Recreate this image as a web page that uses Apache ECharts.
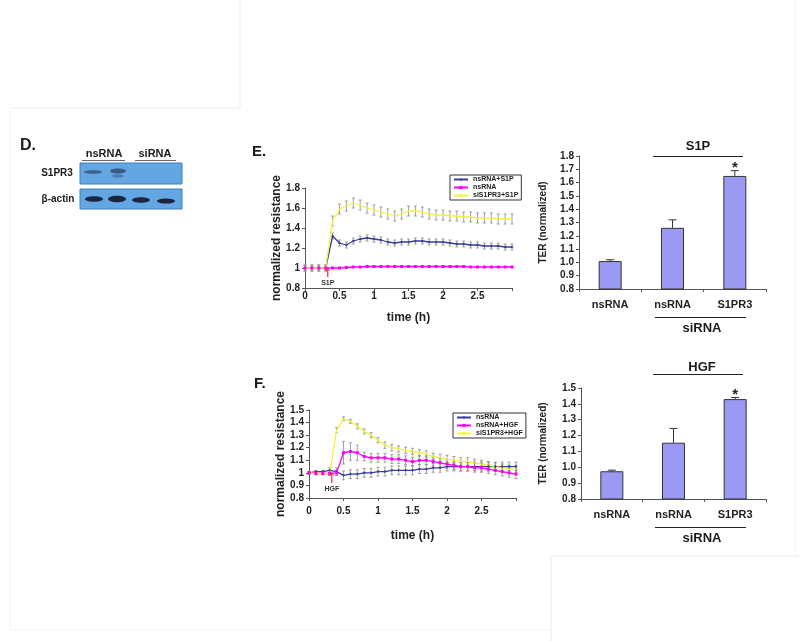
<!DOCTYPE html>
<html><head><meta charset="utf-8">
<script src="https://cdn.jsdelivr.net/npm/echarts@6/dist/echarts.min.js"></script>
<style>html,body{margin:0;padding:0;background:#fff}#c{width:800px;height:641px}</style>
</head><body><div id="c"></div>
<script>
// ---------- DATA ----------
const time = [0,0.1,0.2,0.3,0.4,0.5,0.6,0.7,0.8,0.9,1.0,1.1,1.2,1.3,1.4,1.5,1.6,1.7,1.8,1.9,2.0,2.1,2.2,2.3,2.4,2.5,2.6,2.7,2.8,2.9,3.0];
const xTickLabels = ['0','0.5','1','1.5','2','2.5'];

// Panel E (S1P)
const eNames = ['nsRNA+S1P','nsRNA','siS1PR3+S1P'];
const eNsS1P   = [1.00,1.00,1.00,1.00,1.32,1.25,1.23,1.27,1.29,1.30,1.29,1.28,1.26,1.25,1.26,1.26,1.27,1.27,1.26,1.26,1.26,1.25,1.24,1.24,1.23,1.23,1.22,1.22,1.22,1.21,1.21];
const eNsS1PErr= [0.03,0.03,0.03,0.03,0.03,0.03,0.03,0.03,0.03,0.03,0.03,0.03,0.03,0.03,0.03,0.03,0.03,0.03,0.03,0.03,0.03,0.03,0.03,0.03,0.03,0.03,0.03,0.03,0.03,0.03,0.03];
const eNs      = [1.00,1.00,1.00,1.00,1.00,1.00,1.005,1.01,1.01,1.015,1.015,1.015,1.015,1.015,1.015,1.015,1.015,1.015,1.015,1.015,1.015,1.015,1.015,1.015,1.01,1.01,1.01,1.01,1.01,1.01,1.01];
const eNsErr   = [0.005,0.005,0.005,0.005,0.005,0.005,0.005,0.005,0.005,0.005,0.005,0.005,0.005,0.005,0.005,0.005,0.005,0.005,0.005,0.005,0.005,0.005,0.005,0.005,0.005,0.005,0.005,0.005,0.005,0.005,0.005];
const eSiS1P   = [1.00,1.00,1.00,1.00,1.47,1.59,1.62,1.65,1.63,1.60,1.58,1.56,1.54,1.52,1.54,1.57,1.57,1.56,1.54,1.53,1.53,1.52,1.52,1.51,1.51,1.50,1.50,1.50,1.49,1.49,1.49];
const eSiS1PErr= [0.03,0.03,0.03,0.03,0.05,0.05,0.05,0.05,0.05,0.05,0.05,0.05,0.05,0.05,0.05,0.05,0.05,0.05,0.05,0.05,0.05,0.05,0.05,0.05,0.05,0.05,0.05,0.05,0.05,0.05,0.05];

// Panel F (HGF)
const fNames = ['nsRNA','nsRNA+HGF','siS1PR3+HGF'];
const fNs      = [1.00,1.01,1.01,1.02,1.01,0.98,0.99,0.99,1.00,1.00,1.01,1.01,1.02,1.02,1.02,1.02,1.03,1.03,1.04,1.04,1.05,1.05,1.05,1.05,1.05,1.05,1.05,1.05,1.05,1.05,1.05];
const fNsErr   = [0.01,0.01,0.01,0.02,0.03,0.035,0.035,0.035,0.035,0.035,0.035,0.035,0.035,0.035,0.035,0.035,0.035,0.035,0.035,0.035,0.035,0.035,0.035,0.035,0.035,0.035,0.035,0.035,0.035,0.035,0.035];
const fNsHGF   = [1.00,0.995,0.995,0.995,1.00,1.16,1.17,1.16,1.13,1.12,1.12,1.12,1.11,1.11,1.10,1.09,1.10,1.10,1.09,1.08,1.07,1.06,1.05,1.05,1.04,1.04,1.03,1.02,1.01,1.00,0.99];
const fNsHGFErr= [0.01,0.01,0.01,0.01,0.02,0.09,0.07,0.06,0.035,0.035,0.035,0.035,0.035,0.035,0.035,0.035,0.035,0.035,0.035,0.035,0.035,0.035,0.035,0.035,0.035,0.035,0.035,0.035,0.035,0.035,0.035];
const fSiHGF   = [1.00,0.995,0.995,0.99,1.34,1.43,1.41,1.37,1.33,1.30,1.26,1.22,1.20,1.19,1.18,1.17,1.16,1.15,1.13,1.12,1.11,1.10,1.09,1.09,1.08,1.07,1.06,1.05,1.04,1.03,1.03];
const fSiHGFErr= [0.01,0.01,0.01,0.01,0.02,0.015,0.015,0.02,0.02,0.02,0.02,0.025,0.025,0.025,0.025,0.025,0.025,0.025,0.025,0.03,0.03,0.03,0.03,0.03,0.03,0.03,0.03,0.03,0.03,0.03,0.03];

// Treatment annotations [time, label]
const s1pAdd = [0.33, 'S1P'];
const hgfAdd = [0.33, 'HGF'];

// Bar charts
const barCats = ['nsRNA','nsRNA','S1PR3'];
const barS1P = [1.01, 1.26, 1.65];
const barS1PErr = [0.01, 0.06, 0.04];
const barHGF = [0.975, 1.155, 1.43];
const barHGFErr = [0.007, 0.09, 0.01];
const barSig = ['', '', '*'];

// ---------- CHART ----------
const FONT = 'Liberation Sans, Arial, sans-serif';
const C_BLUE = '#3d3d99', C_MAG = '#ff00ff', C_YEL = '#f2f23a', C_ERR = '#8a8a8a';
const chart = echarts.init(document.getElementById('c'), null, {renderer:'canvas'});

function pairs(ys, errs){ return time.map((t,i)=>[t, ys[i], errs[i]]); }
function lineSeries(name, ys, color, sym, gi){
  return {type:'line', name, xAxisIndex:gi, yAxisIndex:gi, data: time.map((t,i)=>[t,ys[i]]),
    lineStyle:{color, width:1.3}, itemStyle:{color}, symbol:sym, symbolSize:3, showSymbol: sym!=='none',
    z:3, animation:false};
}
function errSeries(ys, errs, gi, color){
  return {type:'custom', xAxisIndex:gi, yAxisIndex:gi, data:pairs(ys,errs), encode:{x:0,y:1}, z:2, animation:false,
    renderItem:(p,api)=>{
      const x=api.value(0), y=api.value(1), e=api.value(2);
      const a=api.coord([x,y+e]), b=api.coord([x,y-e]);
      const st={stroke:color, lineWidth:0.8};
      return {type:'group', children:[
        {type:'line', shape:{x1:a[0],y1:a[1],x2:b[0],y2:b[1]}, style:st},
        {type:'line', shape:{x1:a[0]-1.5,y1:a[1],x2:a[0]+1.5,y2:a[1]}, style:st},
        {type:'line', shape:{x1:b[0]-1.5,y1:b[1],x2:b[0]+1.5,y2:b[1]}, style:st}]};
    }};
}
function arrowSeries(ann, gi, yFrom, yTo, yText){
  return {type:'custom', xAxisIndex:gi, yAxisIndex:gi, data:[[ann[0], yFrom, yTo, yText]], encode:{x:0,y:1}, z:5, animation:false,
    renderItem:(p,api)=>{
      const a=api.coord([api.value(0), api.value(1)]), b=api.coord([api.value(0), api.value(2)]), t=api.coord([api.value(0), api.value(3)]);
      return {type:'group', children:[
        {type:'line', shape:{x1:a[0],y1:a[1],x2:b[0],y2:b[1]}, style:{stroke:'#e0304a', lineWidth:1.2}},
        {type:'polyline', shape:{points:[[a[0]-2,a[1]+3],[a[0],a[1]],[a[0]+2,a[1]+3]]}, style:{stroke:'#e0304a', lineWidth:1, fill:null}},
        {type:'text', x:t[0], y:t[1], style:{text:ann[1], font:'bold 7px '+FONT, fill:'#333', align:'center', verticalAlign:'middle'}}]};
    }};
}
function barErrSeries(vals, errs, sig, gi){
  return {type:'custom', xAxisIndex:gi, yAxisIndex:gi, data: vals.map((v,i)=>[i, v, errs[i]]), encode:{x:0,y:1}, z:4, animation:false,
    renderItem:(p,api)=>{
      const i=api.value(0), v=api.value(1), e=api.value(2);
      const a=api.coord([i, v+e]), b=api.coord([i, v]);
      const st={stroke:'#333', lineWidth:1};
      const ch=[{type:'line', shape:{x1:a[0],y1:a[1],x2:b[0],y2:b[1]}, style:st},
                {type:'line', shape:{x1:a[0]-4,y1:a[1],x2:a[0]+4,y2:a[1]}, style:st}];
      if (sig[i]) ch.push({type:'text', x:a[0], y:a[1]+5, style:{text:sig[i], font:'bold 15px '+FONT, fill:'#222', align:'center', verticalAlign:'bottom'}});
      return {type:'group', children:ch};
    }};
}

const axLine = {show:true, lineStyle:{color:'#555', width:1}};
const axTick = {show:true, length:3, lineStyle:{color:'#555'}};
const lblStyle = {color:'#222', fontFamily:FONT, fontWeight:'bold', fontSize:10};

function lineX(gi, margin, nameGap){
  return {type:'value', gridIndex:gi, min:0, max:3, interval:0.5, axisLine:axLine, axisTick:axTick, splitLine:{show:false},
    axisLabel:Object.assign({}, lblStyle, {margin, formatter:(v)=>{const k=Math.round(v*2); return k<xTickLabels.length? xTickLabels[k]:'';}}),
    name:'time (h)', nameLocation:'middle', nameGap, nameTextStyle:{color:'#222', fontFamily:FONT, fontWeight:'bold', fontSize:12}};
}
function lineY(gi, min, max, interval){
  return {type:'value', gridIndex:gi, min, max, interval, axisLine:axLine, axisTick:axTick, splitLine:{show:false},
    axisLabel:Object.assign({}, lblStyle, {margin:5}),
    name:'normalized resistance', nameLocation:'middle', nameRotate:90, nameGap:22,
    nameTextStyle:{color:'#222', fontFamily:FONT, fontWeight:'bold', fontSize:12}};
}
function barX(gi){
  return {type:'category', gridIndex:gi, data:barCats, axisLine:axLine, axisTick:{show:true, length:3, lineStyle:{color:'#555'}},
    axisLabel:Object.assign({}, lblStyle, {fontSize:11, margin:10})};
}
function barY(gi, min, max, gap){
  return {type:'value', gridIndex:gi, min, max, interval:0.1, axisLine:axLine, axisTick:axTick, splitLine:{show:false},
    axisLabel:Object.assign({}, lblStyle, {margin:5, formatter:(v)=>v.toFixed(1)}),
    name:'TER (normalized)', nameLocation:'middle', nameRotate:90, nameGap:gap,
    nameTextStyle:{color:'#222', fontFamily:FONT, fontWeight:'bold', fontSize:10}};
}

const legendBase = {orient:'vertical', itemWidth:14, itemHeight:4, itemGap:1, padding:[1,3], borderColor:'#333', borderWidth:1,
  backgroundColor:'#fff', textStyle:{fontFamily:FONT, fontWeight:'bold', fontSize:7, color:'#222'}, selectedMode:false};

const fTag = ' (F)';
const faint = '#ebebeb';
function gline(x1,y1,x2,y2,color,w){ return {type:'line', shape:{x1,y1,x2,y2}, style:{stroke:color||'#222', lineWidth:w||1}, silent:true}; }
function gtext(x,y,text,size,align){ return {type:'text', x, y, style:{text, font:'bold '+size+'px '+FONT, fill:'#1a1a1a', align:align||'center', verticalAlign:'middle'}, silent:true}; }

const graphics = [
  // faint page frame lines
  gline(10,108,240,108,faint), gline(240,0,240,108,faint),
  gline(10,108,10,630,'#f3f3f3'), gline(10,630,551,630,'#f3f3f3'),
  gline(795,0,795,556,'#f3f3f3'),
  gline(551,556,800,556,faint), gline(551,556,551,641,faint),
  // panel letters
  gtext(20,146,'D.',16,'left'), gtext(252,152,'E.',15,'left'), gtext(254,384,'F.',15,'left'),
  // western blot
  gtext(104,154,'nsRNA',11), gline(82,160.5,125,160.5,'#666'),
  gtext(155,154,'siRNA',11), gline(135,160.5,176,160.5,'#666'),
  gtext(57,173,'S1PR3',10), gtext(58,199,'β-actin',10),
  {type:'rect', shape:{x:80,y:163,width:102,height:21}, style:{fill:'#64a6e2', stroke:'#3f7fbf', lineWidth:1}, silent:true},
  {type:'rect', shape:{x:80,y:189,width:102,height:20}, style:{fill:'#64a6e2', stroke:'#3f7fbf', lineWidth:1}, silent:true},
  {type:'ellipse', shape:{cx:93,cy:172,rx:9,ry:1.8}, style:{fill:'rgba(30,40,70,0.55)'}, silent:true},
  {type:'ellipse', shape:{cx:118,cy:171,rx:8,ry:2.5}, style:{fill:'rgba(30,40,70,0.6)'}, silent:true},
  {type:'ellipse', shape:{cx:118,cy:176,rx:6,ry:1.5}, style:{fill:'rgba(30,40,70,0.35)'}, silent:true},
  {type:'ellipse', shape:{cx:94,cy:199,rx:9,ry:2.8}, style:{fill:'#1b2440'}, silent:true},
  {type:'ellipse', shape:{cx:117,cy:199,rx:9,ry:3.2}, style:{fill:'#1b2440'}, silent:true},
  {type:'ellipse', shape:{cx:141,cy:200,rx:9,ry:2.8}, style:{fill:'#1b2440'}, silent:true},
  {type:'ellipse', shape:{cx:166,cy:201,rx:9,ry:2.6}, style:{fill:'#1b2440'}, silent:true},
  // bar chart annotations
  gtext(698,146,'S1P',13), gline(653,156.5,743,156.5,'#222'),
  gline(655,317.5,746,317.5,'#222'), gtext(702,328,'siRNA',13),
  gtext(702,367,'HGF',13), gline(653,374.5,743,374.5,'#222'),
  gline(655,527.5,746,527.5,'#222'), gtext(702,538,'siRNA',13)
];

const option = {
  backgroundColor:'#fff',
  animation:false,
  grid:[
    {left:305, top:188, width:207, height:100},
    {left:309, top:410, width:207, height:88},
    {left:579, top:156, width:187, height:133},
    {left:581, top:388, width:185, height:111}
  ],
  xAxis:[lineX(0,3,24), lineX(1,8,32), barX(2), barX(3)],
  yAxis:[lineY(0,0.8,1.8,0.2), lineY(1,0.8,1.5,0.1), barY(2,0.8,1.8,31), barY(3,0.8,1.5,33)],
  legend:[
    Object.assign({}, legendBase, {left:450, top:175, data:eNames}),
    Object.assign({}, legendBase, {left:453, top:413, data:fNames.map(n=>n+fTag), formatter:(n)=>n.replace(fTag,'')})
  ],
  series:[
    errSeries(eNsS1P, eNsS1PErr, 0, C_ERR),
    errSeries(eSiS1P, eSiS1PErr, 0, C_ERR),
    errSeries(eNs, eNsErr, 0, C_MAG),
    lineSeries(eNames[0], eNsS1P, C_BLUE, 'diamond', 0),
    lineSeries(eNames[1], eNs, C_MAG, 'rect', 0),
    lineSeries(eNames[2], eSiS1P, C_YEL, 'none', 0),
    arrowSeries(s1pAdd, 0, 1.0, 0.91, 0.85),

    errSeries(fNs, fNsErr, 1, C_ERR),
    errSeries(fNsHGF, fNsHGFErr, 1, C_ERR),
    errSeries(fSiHGF, fSiHGFErr, 1, C_ERR),
    lineSeries(fNames[0]+fTag, fNs, C_BLUE, 'diamond', 1),
    lineSeries(fNames[1]+fTag, fNsHGF, C_MAG, 'rect', 1),
    lineSeries(fNames[2]+fTag, fSiHGF, C_YEL, 'none', 1),
    arrowSeries(hgfAdd, 1, 1.0, 0.92, 0.87),

    {type:'bar', xAxisIndex:2, yAxisIndex:2, data:barS1P, barWidth:23, itemStyle:{color:'#9a9af5', borderColor:'#333', borderWidth:1}, z:2},
    barErrSeries(barS1P, barS1PErr, barSig, 2),
    {type:'bar', xAxisIndex:3, yAxisIndex:3, data:barHGF, barWidth:23, itemStyle:{color:'#9a9af5', borderColor:'#333', borderWidth:1}, z:2},
    barErrSeries(barHGF, barHGFErr, barSig, 3)
  ],
  graphic: graphics
};
chart.setOption(option);
</script>
</body></html>
